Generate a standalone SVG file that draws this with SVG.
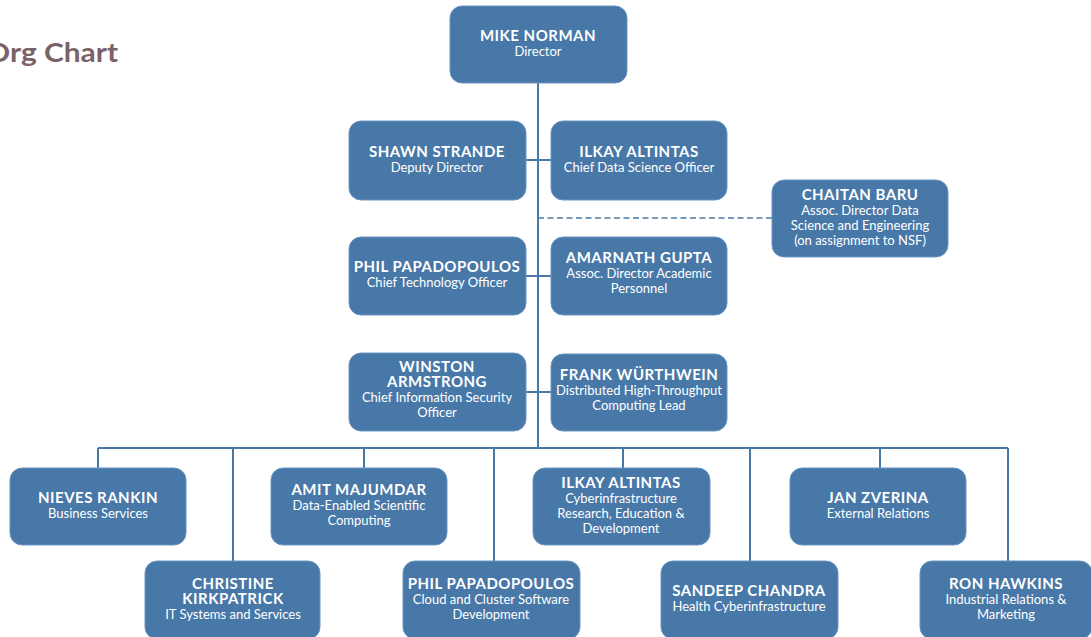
<svg xmlns="http://www.w3.org/2000/svg" width="1091" height="637" viewBox="0 0 1091 637">
<style>
.box{fill:#4878a8;stroke:#6a95c0;stroke-width:1}
.n{font-family:Lato,"Open Sans","DejaVu Sans",sans-serif;font-weight:bold;font-size:15px;letter-spacing:0.5px;fill:#fff;text-anchor:middle}
.s{font-family:Lato,"Open Sans","DejaVu Sans",sans-serif;font-size:13px;fill:#fff;text-anchor:middle}
.ln{stroke:#4a78a6;stroke-width:2;fill:none}
.dash{stroke:#4a78a6;stroke-width:1.6;fill:none;stroke-dasharray:6 3.5}
.title{font-family:Lato,"Open Sans","DejaVu Sans",sans-serif;font-weight:bold;font-size:27px;fill:#7a6268}
</style>
<rect width="1091" height="637" fill="#fff"/>
<text class="title" x="-14" y="62" textLength="132" lengthAdjust="spacingAndGlyphs">Org Chart</text>
<g id="connectors">
<path class="ln" d="M538 83V448M98 448H1008M98 448V468M233 448V561M364 448V468M494 448V561M623 448V468M750 448V561M880 448V468M1008 448V561"/>
<path class="ln" d="M526 160H551M526 276H551M526 392H551"/>
<path class="dash" d="M538 218H772"/>
</g>
<g id="mike"><rect class="box" x="450" y="6" width="177" height="77" rx="12"/><text class="n" x="538" y="41">MIKE NORMAN</text><text class="s" x="538" y="56">Director</text></g>
<g id="shawn"><rect class="box" x="349" y="121" width="177" height="79" rx="12"/><text class="n" x="437" y="157">SHAWN STRANDE</text><text class="s" x="437" y="172">Deputy Director</text></g>
<g id="ilkay1"><rect class="box" x="551" y="121" width="176" height="79" rx="12"/><text class="n" x="639" y="157">ILKAY ALTINTAS</text><text class="s" x="639" y="172">Chief Data Science Officer</text></g>
<g id="chaitan"><rect class="box" x="772" y="180" width="176" height="77" rx="12"/><text class="n" x="860" y="200">CHAITAN BARU</text><text class="s" x="860" y="215">Assoc. Director Data</text><text class="s" x="860" y="230">Science and Engineering</text><text class="s" x="860" y="245">(on assignment to NSF)</text></g>
<g id="phil1"><rect class="box" x="349" y="237" width="177" height="78" rx="12"/><text class="n" x="437" y="272">PHIL PAPADOPOULOS</text><text class="s" x="437" y="287">Chief Technology Officer</text></g>
<g id="amarnath"><rect class="box" x="551" y="237" width="176" height="78" rx="12"/><text class="n" x="639" y="263">AMARNATH GUPTA</text><text class="s" x="639" y="278">Assoc. Director Academic</text><text class="s" x="639" y="293">Personnel</text></g>
<g id="winston"><rect class="box" x="349" y="353" width="177" height="78" rx="12"/><text class="n" x="437" y="372">WINSTON</text><text class="n" x="437" y="387">ARMSTRONG</text><text class="s" x="437" y="402">Chief Information Security</text><text class="s" x="437" y="417">Officer</text></g>
<g id="frank"><rect class="box" x="551" y="354" width="176" height="77" rx="12"/><text class="n" x="639" y="380">FRANK WÜRTHWEIN</text><text class="s" x="639" y="395">Distributed High-Throughput</text><text class="s" x="639" y="410">Computing Lead</text></g>
<g id="nieves"><rect class="box" x="10" y="468" width="176" height="77" rx="12"/><text class="n" x="98" y="503">NIEVES RANKIN</text><text class="s" x="98" y="518">Business Services</text></g>
<g id="christine"><rect class="box" x="145" y="561" width="175" height="78" rx="12"/><text class="n" x="233" y="589">CHRISTINE</text><text class="n" x="233" y="604">KIRKPATRICK</text><text class="s" x="233" y="619">IT Systems and Services</text></g>
<g id="amit"><rect class="box" x="271" y="468" width="176" height="77" rx="12"/><text class="n" x="359" y="495">AMIT MAJUMDAR</text><text class="s" x="359" y="510">Data-Enabled Scientific</text><text class="s" x="359" y="525">Computing</text></g>
<g id="phil2"><rect class="box" x="403" y="561" width="177" height="78" rx="12"/><text class="n" x="491" y="589">PHIL PAPADOPOULOS</text><text class="s" x="491" y="604">Cloud and Cluster Software</text><text class="s" x="491" y="619">Development</text></g>
<g id="ilkay2"><rect class="box" x="533" y="468" width="177" height="77" rx="12"/><text class="n" x="621" y="488">ILKAY ALTINTAS</text><text class="s" x="621" y="503">Cyberinfrastructure</text><text class="s" x="621" y="518">Research, Education &amp;</text><text class="s" x="621" y="533">Development</text></g>
<g id="sandeep"><rect class="box" x="661" y="561" width="177" height="78" rx="12"/><text class="n" x="749" y="596">SANDEEP CHANDRA</text><text class="s" x="749" y="611">Health Cyberinfrastructure</text></g>
<g id="jan"><rect class="box" x="790" y="468" width="176" height="77" rx="12"/><text class="n" x="878" y="503">JAN ZVERINA</text><text class="s" x="878" y="518">External Relations</text></g>
<g id="ron"><rect class="box" x="920" y="561" width="172" height="78" rx="12"/><text class="n" x="1006" y="589">RON HAWKINS</text><text class="s" x="1006" y="604">Industrial Relations &amp;</text><text class="s" x="1006" y="619">Marketing</text></g>
</svg>
